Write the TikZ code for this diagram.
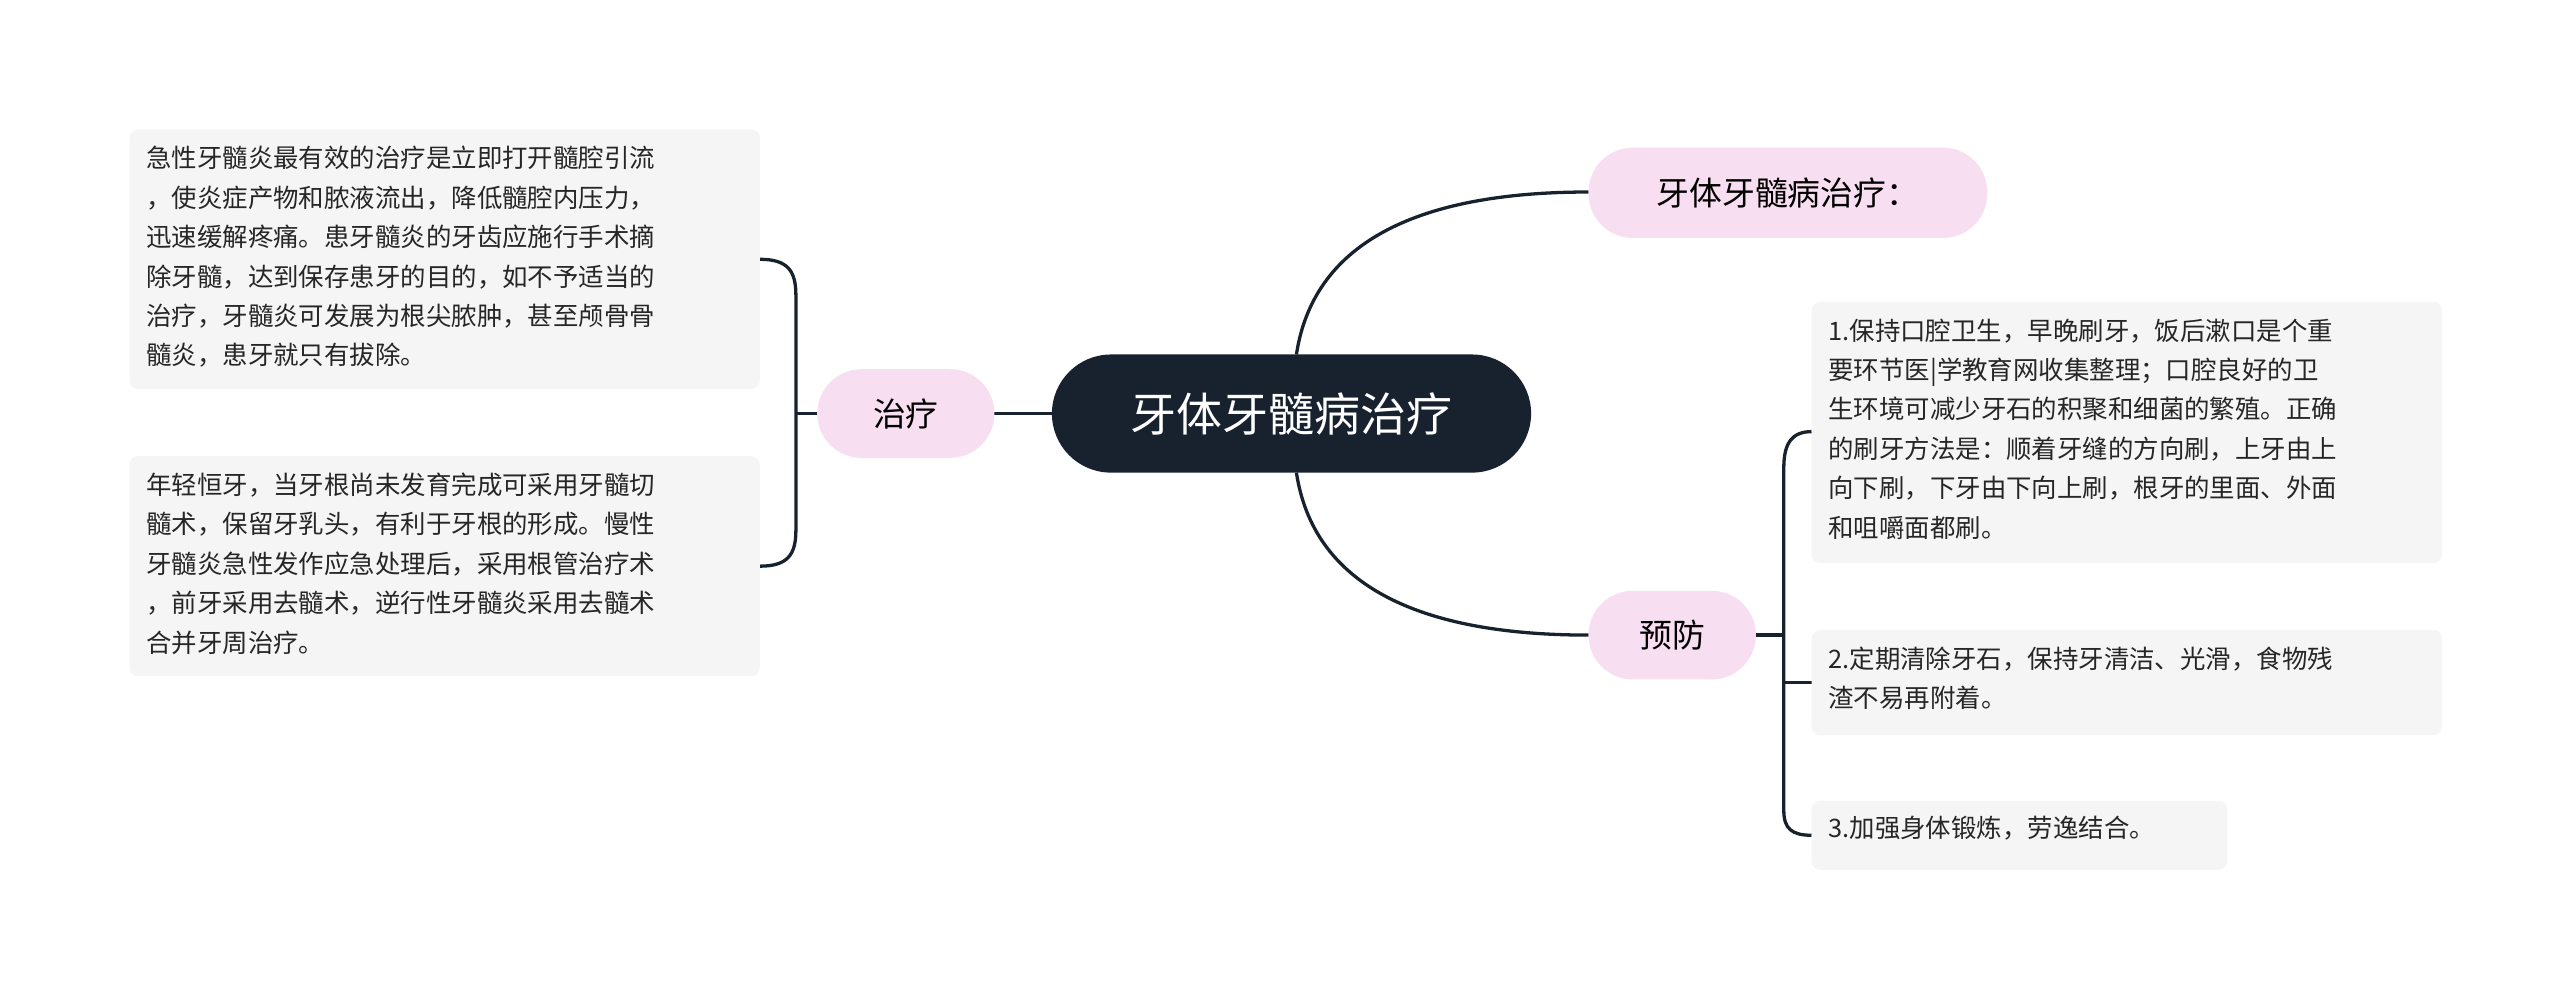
\documentclass[tikz,border=0pt]{standalone}
\usepackage{fontspec}
\setmainfont{Noto Sans CJK SC}
\begin{document}
\begin{tikzpicture}[x=1pt,y=-1pt,
 ln/.style={draw=lc,line width=2pt},
 pill/.style={fill=pk,rounded corners=27pt,font=\fontsize{20}{24}\selectfont},
 tbox/.style={fill=bx,rounded corners=5pt},
 tx/.style={anchor=north west,align=left,inner sep=0pt,font=\fontsize{15.5}{24}\selectfont,text=black!85}]
\definecolor{lc}{HTML}{18222F}\definecolor{pk}{HTML}{F7DEF0}\definecolor{bx}{HTML}{F5F5F5}
\useasboundingbox (0,0) rectangle (1560,606);
\fill[fill=white] (0,0) rectangle (1560,606);
% connectors
\coordinate (ct) at (790,216); \coordinate (cb) at (790,288);
\draw[ln] (ct) .. controls (800,150) and (860,117) .. (968,117);
\draw[ln] (cb) .. controls (800,354) and (860,387) .. (968,387);
\draw[ln] (641,252) -- (606,252);
\draw[ln] (498,252) -- (485,252);
\draw[ln] (463,158) .. controls (480,158) and (485,165) .. (485,180) -- (485,323) .. controls (485,338) and (480,345) .. (463,345);
\draw[ln] (1070,387) -- (1087,387);
\draw[ln] (1104,263) .. controls (1092,263) and (1087,270) .. (1087,285) -- (1087,494) .. controls (1087,505) and (1092,509) .. (1104,509);
\draw[ln] (1087,416) -- (1104,416);
% center
\node[fill=lc,rounded corners=36pt,minimum width=292pt,minimum height=72pt,text=white,font=\fontsize{28}{32}\selectfont] (c) at (787,252) {牙体牙髓病治疗};
\node[pill,minimum width=243pt,minimum height=55pt] (t) at (1089.5,117.5) {牙体牙髓病治疗：};
\node[pill,minimum width=108pt,minimum height=54pt] (zl) at (552,252) {治疗};
\node[pill,minimum width=102pt,minimum height=54pt] (yf) at (1019,387) {预防};
% boxes
\fill[tbox] (79,79) rectangle (463,237);
\node[tx] (l1) at (89,89) {急性牙髓炎最有效的治疗是立即打开髓腔引流\\，使炎症产物和脓液流出，降低髓腔内压力，\\迅速缓解疼痛。患牙髓炎的牙齿应施行手术摘\\除牙髓，达到保存患牙的目的，如不予适当的\\治疗，牙髓炎可发展为根尖脓肿，甚至颅骨骨\\髓炎，患牙就只有拔除。};
\fill[tbox] (79,278) rectangle (463,412);
\node[tx] (l2) at (89,288) {年轻恒牙，当牙根尚未发育完成可采用牙髓切\\髓术，保留牙乳头，有利于牙根的形成。慢性\\牙髓炎急性发作应急处理后，采用根管治疗术\\，前牙采用去髓术，逆行性牙髓炎采用去髓术\\合并牙周治疗。};
\fill[tbox] (1104,184) rectangle (1488,343);
\node[tx] (r1) at (1114,194) {1.保持口腔卫生，早晚刷牙，饭后漱口是个重\\要环节医|学教育网收集整理；口腔良好的卫\\生环境可减少牙石的积聚和细菌的繁殖。正确\\的刷牙方法是：顺着牙缝的方向刷，上牙由上\\向下刷，下牙由下向上刷，根牙的里面、外面\\和咀嚼面都刷。};
\fill[tbox] (1104,384) rectangle (1488,448);
\node[tx] (r2) at (1114,394) {2.定期清除牙石，保持牙清洁、光滑，食物残\\渣不易再附着。};
\fill[tbox] (1104,488) rectangle (1357,530);
\node[tx] (r3) at (1114,497) {3.加强身体锻炼，劳逸结合。};
\end{tikzpicture}
\end{document}
